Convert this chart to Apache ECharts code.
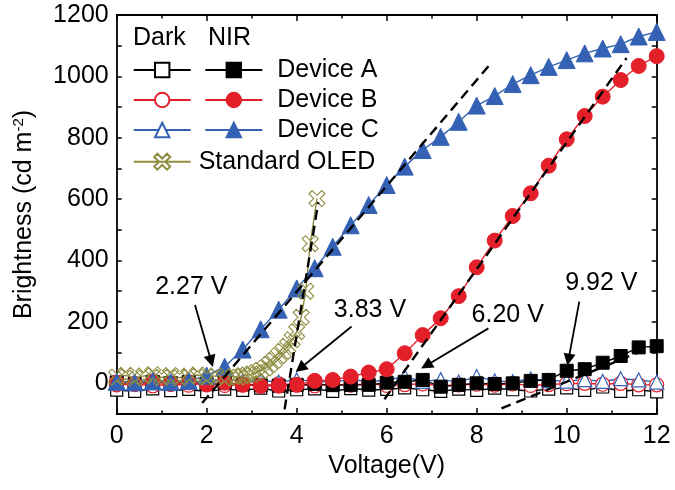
<!DOCTYPE html>
<html><head><meta charset="utf-8">
<script src="https://cdn.jsdelivr.net/npm/echarts@6/dist/echarts.min.js"></script>
<style>html,body{margin:0;padding:0;background:#fff}#c{width:675px;height:490px}</style>
</head><body><div id="c"></div>
<script>
// ---- data ----
const voltage = [0,0.4,0.8,1.2,1.6,2.0,2.4,2.8,3.2,3.6,4.0,4.4,4.8,5.2,5.6,6.0,6.4,6.8,7.2,7.6,8.0,8.4,8.8,9.2,9.6,10.0,10.4,10.8,11.2,11.6,12.0];
const darkA = [-22,-26,-18,-24,-20,-27,-19,-23,-16,-25,-21,-18,-26,-17,-22,-20,-15,-21,-26,-19,-23,-16,-21,-25,-19,-15,-23,-12,-26,-21,-28];
const darkB = [-5,-2,-8,-3,-6,0,-7,-4,-9,-2,-5,-8,-3,-6,-1,-7,-4,-2,-8,-5,-3,-6,-2,-7,-4,-1,0,-3,0,-5,-5];
const darkC = [8,3,12,5,10,2,14,6,9,4,11,7,3,13,5,10,22,6,12,4,22,8,5,14,9,7,12,6,15,11,4];
const nirA = [3,-2,5,0,4,-3,2,-4,-6,-8,-5,-2,-6,-5,-5,2,5,11,-11,-5,0,-2,0,8,11,41,46,67,89,117,121];
const nirB = [2,-3,4,-2,3,-4,2,-5,-8,-8,-5,8,11,22,35,46,98,157,212,284,378,465,545,619,709,795,871,934,988,1034,1066];
const nirC = [5,3,6,4,8,25,54,110,176,240,309,375,445,515,581,646,706,760,803,852,905,936,975,1004,1031,1053,1075,1091,1105,1130,1145];
const stdVoltage = [0,0.2,0.4,0.6,0.8,1.0,1.2,1.4,1.6,1.8,2.0,2.2,2.4,2.6,2.7,2.8,2.9,3.0,3.1,3.2,3.3,3.4,3.5,3.6,3.7,3.8,3.9,4.0,4.1,4.2,4.3,4.45];
const stdOLED = [20,26,17,24,28,19,25,18,23,27,20,24,17,22,20,25,27,30,35,42,50,62,75,90,104,120,142,168,215,300,455,602];
const tangentC = [[1.9,-64],[8.33,1045]];
const tangentStd = [[3.73,-85],[4.48,590]];
const tangentB = [[5.95,-52],[11.33,1060]];
const tangentA = [[8.55,-82],[12,125]];
const onsetLabels = ['2.27 V','3.83 V','6.20 V','9.92 V'];
const labelPos = [[1.67,312],[5.64,236],[8.70,219],[10.78,324]];
const arrowFrom = [[1.74,255],[5.22,185],[8.26,179],[10.28,266]];
const arrowTo = [[2.10,72],[4.08,49],[6.88,58],[10.04,77]];
const xTicks = {min:0, max:12, interval:2};
const yTicks = {min:-100, max:1200, interval:100};

// ---- style ----
const BLACK = '#000000', RED = '#e3202a', BLUE = '#3461b4', OLIVE = '#8f8d3f';
const FONT = '"Liberation Sans", Arial, Helvetica, sans-serif';
const crossPath = 'path://M2,0 L5,3 L8,0 L10,2 L7,5 L10,8 L8,10 L5,7 L2,10 L0,8 L3,5 L0,2 Z';

function pairs(xs, ys){ return xs.map((v,i)=>[v, ys[i]]); }

function dataSeries(name, ys, color, symbol, size, open, xs){
  return {
    name, type:'line', data: pairs(xs || voltage, ys),
    symbol, symbolSize: size, showAllSymbol: true,
    lineStyle:{color, width:1.4},
    itemStyle: open ? {color:'#ffffff', borderColor:color, borderWidth:1.2} : {color, borderColor:color, borderWidth:1},
    emphasis:{disabled:true}, animation:false
  };
}
function tangent(pts){
  return {type:'line', data: pts, symbol:'none', z:5,
    lineStyle:{color:BLACK, width:2.4, type:[10,6]}, emphasis:{disabled:true}, silent:true, animation:false};
}

const axisCommon = {
  axisLine:{show:true, onZero:false, lineStyle:{color:BLACK, width:1.8}},
  axisTick:{show:true, inside:true, length:6, lineStyle:{color:BLACK, width:1.5}},
  splitLine:{show:false}
};

const option = {
  animation:false,
  textStyle:{fontFamily:FONT},
  grid:{left:116.7, right:18.3, top:15, bottom:76, containLabel:false, outerBoundsMode:'none'},
  xAxis:[
    Object.assign({type:'value', position:'bottom', ...xTicks,
      minorTick:{show:true, splitNumber:2, length:3.5, lineStyle:{color:BLACK, width:1.5}},
      axisLabel:{fontSize:25, color:BLACK, margin:10, fontFamily:FONT},
      name:'Voltage(V)', nameLocation:'middle', nameGap:37,
      nameTextStyle:{fontSize:25, color:BLACK, fontFamily:FONT}}, axisCommon),
    Object.assign({type:'value', position:'top', ...xTicks,
      minorTick:{show:true, splitNumber:2, length:3.5, lineStyle:{color:BLACK, width:1.5}},
      axisLabel:{show:false}}, axisCommon)
  ],
  yAxis:[
    Object.assign({type:'value', position:'left', ...yTicks,
      axisLabel:{fontSize:25, color:BLACK, margin:8, fontFamily:FONT,
        formatter:v => (v>=0 && v%200===0) ? String(v) : ''},
      name:'Brightness (cd m{sup|-2})', nameLocation:'middle', nameGap:80,
      nameTextStyle:{fontSize:25, color:BLACK, fontFamily:FONT,
        rich:{sup:{fontSize:15, verticalAlign:'top', color:BLACK, fontFamily:FONT}}}}, axisCommon,
      {axisTick:{show:true, inside:true, length:5, lineStyle:{color:BLACK, width:1.5}}}),
    Object.assign({type:'value', position:'right', ...yTicks, axisLabel:{show:false}}, axisCommon,
      {axisTick:{show:true, inside:true, length:5, lineStyle:{color:BLACK, width:1.5}}})
  ],
  legend:[
    {data:['Dark A','Dark B','Dark C'], left:132.7, top:55, orient:'vertical', padding:0,
      itemWidth:57, itemHeight:18, itemGap:0, selectedMode:false, formatter:()=>' ',
      textStyle:{fontSize:25, lineHeight:30, color:BLACK, fontFamily:FONT}},
    {data:['Device A','Device B','Device C'], left:204.3, top:55, orient:'vertical', padding:0,
      itemWidth:57, itemHeight:18, itemGap:0, selectedMode:false,
      textStyle:{fontSize:25, lineHeight:30, color:BLACK, fontFamily:FONT, padding:[0,0,0,10]}},
    {data:['Standard OLED'], left:132.7, top:146.7, orient:'vertical', padding:0,
      itemWidth:57, itemHeight:20, itemGap:0, selectedMode:false,
      textStyle:{fontSize:25, lineHeight:30, color:BLACK, fontFamily:FONT, padding:[0,0,0,3]}}
  ],
  graphic:[
    {type:'text', x:133, y:38, style:{text:'Dark', fontSize:25, fontFamily:FONT, fill:BLACK, verticalAlign:'middle'}},
    {type:'text', x:208, y:38, style:{text:'NIR', fontSize:25, fontFamily:FONT, fill:BLACK, verticalAlign:'middle'}}
  ],
  series:[
    dataSeries('Dark A', darkA, BLACK, 'rect', 12, true),
    dataSeries('Dark B', darkB, RED, 'circle', 14, true),
    dataSeries('Dark C', darkC, BLUE, 'triangle', 14, true),
    dataSeries('Device A', nirA, BLACK, 'rect', 13, false),
    dataSeries('Device B', nirB, RED, 'circle', 15, false),
    dataSeries('Device C', nirC, BLUE, 'triangle', 17, false),
    Object.assign(dataSeries('Standard OLED', stdOLED, OLIVE, crossPath, 16, false, stdVoltage),
      {itemStyle:{color:'rgba(255,255,255,0)', borderColor:OLIVE, borderWidth:1.1}}),
    tangent(tangentC), tangent(tangentStd), tangent(tangentB), tangent(tangentA),
    {type:'lines', coordinateSystem:'cartesian2d', z:10, silent:true, animation:false,
      symbol:['none','triangle'], symbolSize:12,
      lineStyle:{color:BLACK, width:1.8, opacity:1},
      data: arrowFrom.map((f,i)=>({coords:[f, arrowTo[i]]}))},
    {type:'scatter', z:10, silent:true, symbol:'circle', symbolSize:1,
      itemStyle:{color:'rgba(0,0,0,0)'},
      label:{show:true, position:[0,0], align:'center', verticalAlign:'middle', formatter:'{b}',
        fontSize:25, color:'#000000', opacity:1, textBorderWidth:0, fontFamily:FONT},
      emphasis:{disabled:true},
      data: labelPos.map((p,i)=>({name:onsetLabels[i], value:p}))}
  ]
};
const chart = echarts.init(document.getElementById('c'), null, {renderer:'canvas'});
chart.setOption(option);
</script></body></html>
